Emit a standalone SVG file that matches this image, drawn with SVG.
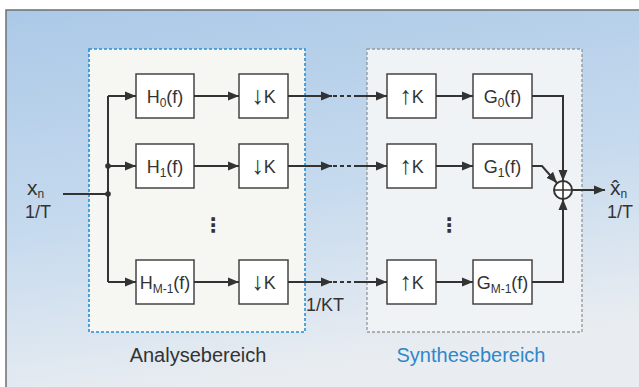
<svg xmlns="http://www.w3.org/2000/svg" width="639" height="387" viewBox="0 0 639 387">
<defs>
<linearGradient id="bg" x1="0" y1="0" x2="0.25" y2="1">
<stop offset="0" stop-color="#abc9e7"/>
<stop offset="0.55" stop-color="#c6daee"/>
<stop offset="1" stop-color="#e9edf1"/>
</linearGradient>
<marker id="ah" markerUnits="userSpaceOnUse" markerWidth="12" markerHeight="10" refX="11" refY="5" orient="auto">
<path d="M0,0.5 L11,5 L0,9.5 z" fill="#333"/>
</marker>
<style>
.box{fill:#fff;stroke:#444;stroke-width:1.5}
.t{font-family:"Liberation Sans",Arial,sans-serif;font-size:18px;fill:#333}
.c{text-anchor:middle}
.ar{font-size:25px}
.ln{fill:none;stroke:#333;stroke-width:2}
.dash{fill:none;stroke:#333;stroke-width:2;stroke-dasharray:4,3}
</style>
</defs>
<rect x="0" y="0" width="639" height="387" fill="#fff"/>
<rect x="6" y="10" width="640" height="385" fill="url(#bg)" stroke="#6f6f6f" stroke-width="1.5"/>
<g id="analyse">
<rect x="89" y="49" width="216" height="283" fill="#f6f6f3" stroke="#2b8fd1" stroke-width="1.6" stroke-dasharray="3,2"/>
<text class="t c" x="198" y="362" style="font-size:20px">Analysebereich</text>
</g>
<g id="synthese">
<rect x="367" y="49" width="215" height="283" fill="#f0f3f6" stroke="#9a9a9a" stroke-width="1.4" stroke-dasharray="3,2"/>
<text class="t c" x="471" y="362" style="font-size:20px;fill:#2f87c8">Synthesebereich</text>
</g>
<g id="input">
<text class="t" x="27" y="195" style="font-size:21px">x<tspan style="font-size:12px" dy="3">n</tspan></text>
<text class="t" x="25" y="218">1/T</text>
</g>
<g id="H0"><rect class="box" x="136" y="74" width="58" height="44"/><text class="t c" x="165" y="103">H<tspan style="font-size:12px" dy="4">0</tspan><tspan dy="-4">(f)</tspan></text></g>
<g id="H1"><rect class="box" x="136" y="144" width="58" height="44"/><text class="t c" x="165" y="173">H<tspan style="font-size:12px" dy="4">1</tspan><tspan dy="-4">(f)</tspan></text></g>
<g id="HM1"><rect class="box" x="136" y="260" width="58" height="44"/><text class="t c" x="165" y="289">H<tspan style="font-size:12px" dy="4">M-1</tspan><tspan dy="-4">(f)</tspan></text></g>
<g id="D0"><rect class="box" x="239" y="74" width="49" height="44"/><text class="t c" x="263.5" y="103"><tspan class="ar" dy="1">↓</tspan><tspan dy="-1">K</tspan></text></g>
<g id="D1"><rect class="box" x="239" y="144" width="49" height="44"/><text class="t c" x="263.5" y="173"><tspan class="ar" dy="1">↓</tspan><tspan dy="-1">K</tspan></text></g>
<g id="DM1"><rect class="box" x="239" y="260" width="49" height="44"/><text class="t c" x="263.5" y="289"><tspan class="ar" dy="1">↓</tspan><tspan dy="-1">K</tspan></text></g>
<g id="U0"><rect class="box" x="387" y="74" width="49" height="44"/><text class="t c" x="411.5" y="103"><tspan class="ar" dy="1">↑</tspan><tspan dy="-1">K</tspan></text></g>
<g id="U1"><rect class="box" x="387" y="144" width="49" height="44"/><text class="t c" x="411.5" y="173"><tspan class="ar" dy="1">↑</tspan><tspan dy="-1">K</tspan></text></g>
<g id="UM1"><rect class="box" x="387" y="260" width="49" height="44"/><text class="t c" x="411.5" y="289"><tspan class="ar" dy="1">↑</tspan><tspan dy="-1">K</tspan></text></g>
<g id="G0"><rect class="box" x="473" y="74" width="59" height="44"/><text class="t c" x="502.5" y="103">G<tspan style="font-size:12px" dy="4">0</tspan><tspan dy="-4">(f)</tspan></text></g>
<g id="G1"><rect class="box" x="473" y="144" width="59" height="44"/><text class="t c" x="502.5" y="173">G<tspan style="font-size:12px" dy="4">1</tspan><tspan dy="-4">(f)</tspan></text></g>
<g id="GM1"><rect class="box" x="473" y="260" width="59" height="44"/><text class="t c" x="502.5" y="289">G<tspan style="font-size:12px" dy="4">M-1</tspan><tspan dy="-4">(f)</tspan></text></g>
<g id="dots">
<text class="c" x="213" y="232" style="font-family:'DejaVu Sans',sans-serif;font-size:20px;font-weight:bold;fill:#333">⋮</text>
<text class="c" x="449" y="232" style="font-family:'DejaVu Sans',sans-serif;font-size:20px;font-weight:bold;fill:#333">⋮</text>
</g>
<g id="sum">
<circle cx="563" cy="190" r="9" fill="#fff" stroke="#333" stroke-width="2"/>
<path d="M554,190 H572 M563,181 V199" stroke="#333" stroke-width="1.6"/>
</g>
<g id="output">
<text class="t" x="610" y="195" style="font-size:21px">x̂<tspan style="font-size:12px" dy="3">n</tspan></text>
<text class="t" x="607" y="218">1/T</text>
</g>
<g id="rate"><text class="t" x="306" y="311">1/KT</text></g>
<g id="connectors">
<path class="ln" d="M63,194 H108 M108,96 V282"/>
<circle cx="108" cy="166" r="2.8" fill="#333"/>
<circle cx="108" cy="194" r="2.8" fill="#333"/>
<path class="ln" d="M108,96 H136" marker-end="url(#ah)"/>
<path class="ln" d="M108,166 H136" marker-end="url(#ah)"/>
<path class="ln" d="M108,282 H136" marker-end="url(#ah)"/>
<path class="ln" d="M194,96 H239" marker-end="url(#ah)"/>
<path class="ln" d="M194,166 H239" marker-end="url(#ah)"/>
<path class="ln" d="M194,282 H239" marker-end="url(#ah)"/>
<path class="ln" d="M288,96 H332" marker-end="url(#ah)"/>
<path class="ln" d="M288,166 H332" marker-end="url(#ah)"/>
<path class="ln" d="M288,282 H332" marker-end="url(#ah)"/>
<path class="dash" d="M333,96 H355 M333,166 H355 M333,282 H355"/>
<path class="ln" d="M355,96 H387" marker-end="url(#ah)"/>
<path class="ln" d="M355,166 H387" marker-end="url(#ah)"/>
<path class="ln" d="M355,282 H387" marker-end="url(#ah)"/>
<path class="ln" d="M436,96 H473" marker-end="url(#ah)"/>
<path class="ln" d="M436,166 H473" marker-end="url(#ah)"/>
<path class="ln" d="M436,282 H473" marker-end="url(#ah)"/>
<path class="ln" d="M532,96 H563 V181" marker-end="url(#ah)"/>
<path class="ln" d="M532,166 H542 L557,183" marker-end="url(#ah)"/>
<path class="ln" d="M532,282 H563 V199" marker-end="url(#ah)"/>
<path class="ln" d="M572,190 H605" marker-end="url(#ah)"/>
</g>
</svg>
